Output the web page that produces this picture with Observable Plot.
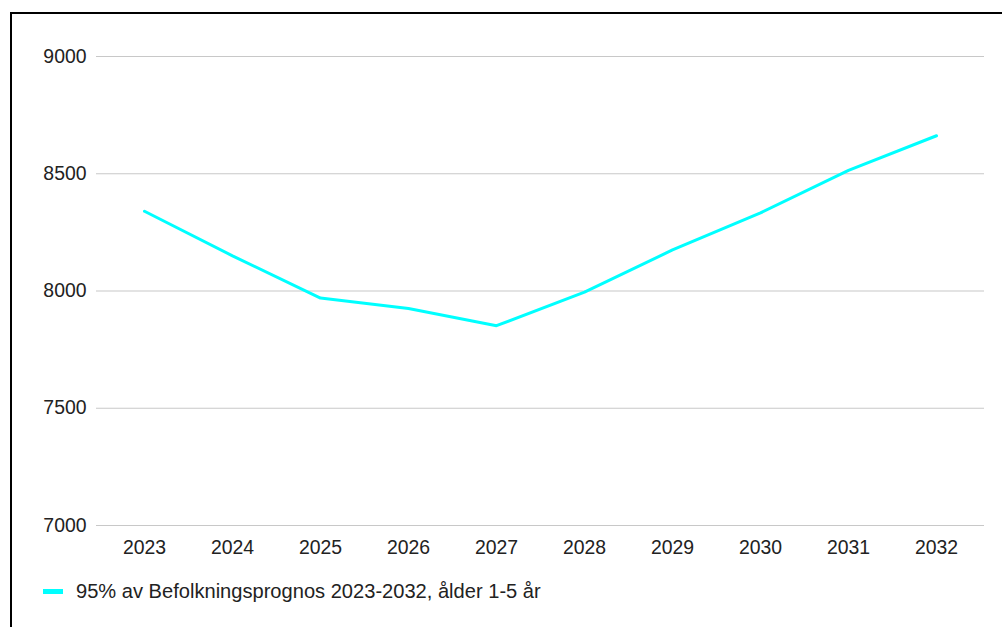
<!DOCTYPE html>
<html>
<head>
<meta charset="utf-8">
<script src="https://cdn.jsdelivr.net/npm/d3@7"></script>
<script src="https://cdn.jsdelivr.net/npm/@observablehq/plot@0.6"></script>
<style>
  html, body { margin: 0; padding: 0; background: #fff; width: 1002px; height: 627px; overflow: hidden; }
  #frame { position: absolute; left: 10px; top: 12px; width: 1100px; height: 700px; border: 2px solid #000; box-sizing: border-box; }
  #chart { position: absolute; left: 0; top: 0; }
  #legend { position: absolute; left: 43px; top: 579px; height: 24px; font-family: "Liberation Sans", Arial, sans-serif; font-size: 20.1px; color: #222; display: flex; align-items: center; white-space: nowrap; }
  #legend .sw { width: 20px; height: 5px; background: #00ffff; margin-right: 13px; }
</style>
</head>
<body>
<div id="frame"></div>
<div id="chart"></div>
<div id="legend"><span class="sw"></span><span id="legtext"></span></div>
<script>
const years = ["2023","2024","2025","2026","2027","2028","2029","2030","2031","2032"];
const values = [8340, 8150, 7970, 7925, 7852, 7995, 8175, 8333, 8514, 8662];
const yTicks = [7000, 7500, 8000, 8500, 9000];
const seriesName = "95% av Befolkningsprognos 2023-2032, ålder 1-5 år";

const data = years.map((y, i) => ({year: y, value: values[i]}));

const chart = Plot.plot({
  width: 1002,
  height: 560,
  marginTop: 56,
  marginBottom: 35,
  marginLeft: 96,
  marginRight: 18,
  style: { fontFamily: '"Liberation Sans", Arial, sans-serif', fontSize: "19.4px", color: "#222", background: "transparent" },
  x: { type: "point", domain: years, padding: 0.5, label: null },
  y: { domain: [7000, 9000], ticks: yTicks, label: null },
  marks: [
    Plot.gridY(yTicks, { stroke: "#c8c8c8", strokeOpacity: 1, strokeWidth: 1.2 }),
    Plot.axisY(yTicks, { tickSize: 0, tickPadding: 10, tickFormat: d => String(d), fill: "#222", label: null }),
    Plot.axisX(years, { tickSize: 0, tickPadding: 15, fill: "#222", label: null }),
    Plot.line(data, { x: "year", y: "value", stroke: "#00ffff", strokeWidth: 3, strokeLinejoin: "miter" })
  ]
});
document.getElementById("chart").appendChild(chart);
document.getElementById("legtext").textContent = seriesName;
</script>
</body>
</html>
